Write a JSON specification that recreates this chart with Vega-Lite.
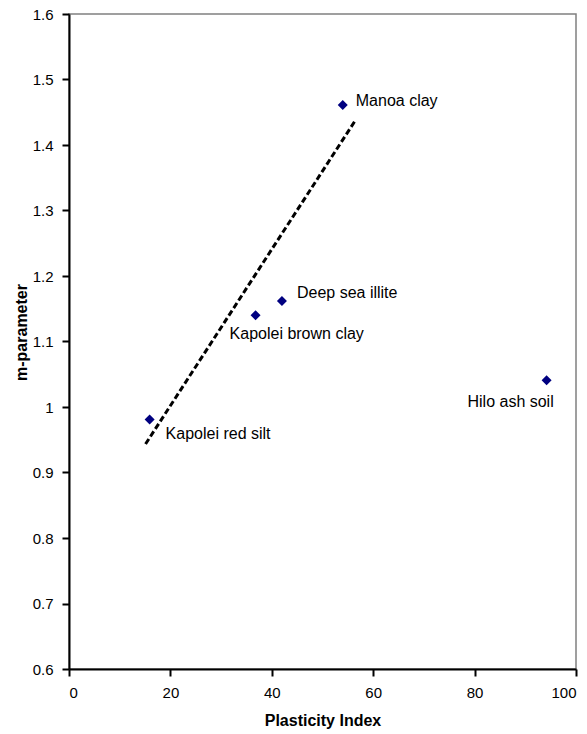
{
  "$schema": "https://vega.github.io/schema/vega-lite/v6.json",
  "width": 507,
  "height": 655,
  "autosize": "none",
  "padding": {"left": 69, "top": 14, "right": 11, "bottom": 65},
  "background": "white",
  "config": {
    "view": {"stroke": "#808080", "strokeWidth": 1.5},
    "font": "Liberation Sans",
    "axis": {
      "grid": false,
      "domainColor": "black",
      "domainWidth": 2,
      "tickColor": "black",
      "tickWidth": 2,
      "tickSize": 7,
      "labelFont": "Liberation Sans",
      "labelFontSize": 15,
      "labelColor": "black",
      "titleFont": "Liberation Sans",
      "titleFontSize": 16,
      "titleFontWeight": "bold",
      "titleColor": "black"
    }
  },
  "datasets": {
    "soils": [
      {"soil": "Manoa clay", "PI": 54, "m": 1.461, "pos": "right"},
      {"soil": "Deep sea illite", "PI": 42, "m": 1.162, "pos": "right2"},
      {"soil": "Kapolei brown clay", "PI": 36.8, "m": 1.14, "pos": "below"},
      {"soil": "Kapolei red silt", "PI": 15.9, "m": 0.981, "pos": "belowright"},
      {"soil": "Hilo ash soil", "PI": 94.2, "m": 1.041, "pos": "belowleft"}
    ],
    "trend": [
      {"PI": 15.1, "m": 0.9435},
      {"PI": 56.6, "m": 1.439}
    ]
  },
  "encoding": {
    "x": {
      "field": "PI", "type": "quantitative",
      "scale": {"domain": [0, 100], "nice": false, "zero": false},
      "axis": {"values": [0, 20, 40, 60, 80, 100], "title": "Plasticity Index", "labelPadding": 9, "titlePadding": 12}
    },
    "y": {
      "field": "m", "type": "quantitative",
      "scale": {"domain": [0.6, 1.6], "nice": false, "zero": false},
      "axis": {"values": [0.6, 0.7, 0.8, 0.9, 1, 1.1, 1.2, 1.3, 1.4, 1.5, 1.6], "format": "~g", "title": "m-parameter", "labelPadding": 9, "titlePadding": 3, "titleY": 318}
    }
  },
  "layer": [
    {
      "data": {"name": "trend"},
      "mark": {"type": "line", "color": "black", "strokeWidth": 3, "strokeDash": [6, 3], "strokeCap": "butt"}
    },
    {
      "data": {"name": "soils"},
      "mark": {"type": "point", "shape": "diamond", "filled": true, "color": "#000080", "size": 100, "opacity": 1}
    },
    {
      "data": {"name": "soils"},
      "transform": [{"filter": "datum.pos == 'right'"}],
      "mark": {"type": "text", "align": "left", "baseline": "middle", "dx": 13, "dy": -4, "fontSize": 16, "font": "Liberation Sans", "color": "black"},
      "encoding": {"text": {"field": "soil"}}
    },
    {
      "data": {"name": "soils"},
      "transform": [{"filter": "datum.pos == 'right2'"}],
      "mark": {"type": "text", "align": "left", "baseline": "middle", "dx": 15, "dy": -8, "fontSize": 16, "font": "Liberation Sans", "color": "black"},
      "encoding": {"text": {"field": "soil"}}
    },
    {
      "data": {"name": "soils"},
      "transform": [{"filter": "datum.pos == 'below'"}],
      "mark": {"type": "text", "align": "left", "baseline": "middle", "dx": -26, "dy": 19, "fontSize": 16, "font": "Liberation Sans", "color": "black"},
      "encoding": {"text": {"field": "soil"}}
    },
    {
      "data": {"name": "soils"},
      "transform": [{"filter": "datum.pos == 'belowright'"}],
      "mark": {"type": "text", "align": "left", "baseline": "middle", "dx": 16, "dy": 15, "fontSize": 16, "font": "Liberation Sans", "color": "black"},
      "encoding": {"text": {"field": "soil"}}
    },
    {
      "data": {"name": "soils"},
      "transform": [{"filter": "datum.pos == 'belowleft'"}],
      "mark": {"type": "text", "align": "center", "baseline": "middle", "dx": -36, "dy": 22, "fontSize": 16, "font": "Liberation Sans", "color": "black"},
      "encoding": {"text": {"field": "soil"}}
    }
  ]
}
